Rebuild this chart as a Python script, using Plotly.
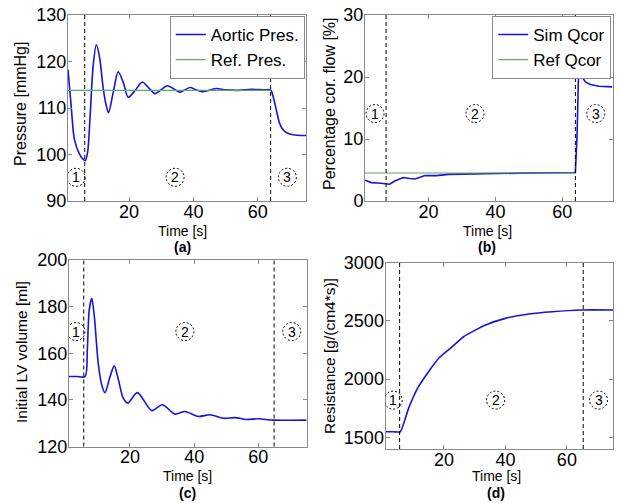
import plotly.graph_objects as go

# ---------------- data ----------------
# (a) Aortic pressure
t_a = [1, 2, 3, 4.5, 5.8, 6.4, 7.1, 7.9, 8.8, 9.8, 10.8, 11.9, 12.8, 13.6, 15.1, 16.6, 18.2, 19.7,
       21.9, 24.1, 26, 28, 29.9, 31.8, 33.7, 35.7, 37.3, 39, 40.8, 42.7, 44.9, 47.1, 50, 54, 58, 62,
       64, 64.8, 65.8, 66.8, 68, 69.5, 71.5, 73.5, 75]
p_a = [118.2, 110.3, 103.2, 100.2, 98.9, 98.7, 100.5, 108.5, 118.9, 123.6, 121.0, 114.5, 110.8, 109.0,
       113.5, 117.8, 115.5, 112.3, 113.8, 115.6, 114.4, 113.1, 113.9, 114.8, 114.2, 113.4, 113.9, 114.4,
       113.9, 113.5, 113.8, 114.2, 113.9, 113.8, 114.0, 113.9, 113.9, 112.4, 109.5, 106.7, 105.2, 104.5,
       104.2, 104.1, 104.1]
t_ref_a = [1, 64]
ref_a = [113.8, 113.8]

# (b) Coronary flow percentage
t_b = [1, 2.9, 4.9, 7.4, 8.4, 9.9, 12.4, 14.4, 16.0, 18.9, 22.4, 25.9, 32.9, 40.9, 47.9, 63.9,
       64.4, 64.8, 65.2, 65.9, 66.9, 68.4, 70.9, 75]
q_b = [3.35, 2.97, 2.9, 2.75, 2.7, 3.23, 3.78, 3.62, 3.55, 4.1, 4.1, 4.3, 4.4, 4.4, 4.5, 4.59,
       10.6, 19.5, 21.0, 20.0, 19.2, 18.8, 18.5, 18.4]
t_ref_b = [1, 64]
ref_b = [4.52, 4.52]

# (c) Initial LV volume
t_c = [1, 3.5, 6.0, 6.7, 7.3, 8.1, 8.9, 10.1, 11.2, 12.2, 13.8, 15.1, 16.4, 17.9, 19.3, 22.3, 26.8,
       30.1, 34, 37.1, 41.3, 44.9, 49.1, 52.7, 56.3, 60, 64.7, 75]
v_c = [150, 150, 150, 161.4, 178.6, 183.6, 175.7, 155.7, 146.4, 143.1, 150, 154.6, 148.6, 140.7,
       138.6, 143.1, 135.4, 137.9, 133.9, 135, 132.9, 133.6, 132.1, 132.4, 131.6, 131.9, 131.3, 131.3]

# (d) Resistance
t_d = [1, 3.5, 5.8, 8.5, 11.4, 15, 18.3, 22.1, 26.4, 33.5, 40, 47.6, 55.2, 65, 75]
r_d = [1548, 1548, 1548, 1749, 1921, 2064, 2179, 2265, 2364, 2465, 2522, 2559, 2579, 2594, 2594]

# phase boundaries (dashed lines) per panel
phase_a = [6.2, 64.0]
phase_b = [7.3, 63.9]
phase_c = [5.6, 64.9]
phase_d = [5.6, 65.3]

# circled phase labels: x positions and y level per panel
circ_labels = ["1", "2", "3"]
circ_a_x, circ_a_y = [3.5, 34.3, 69.2], 95.1
circ_b_x, circ_b_y = [4.0, 33.9, 70.0], 14.1
circ_c_x, circ_c_y = [3.2, 37.1, 70.4], 169.3
circ_d_x, circ_d_y = [3.5, 36.8, 70.3], 1820

x_ticks = [20, 40, 60]
y_ticks_a = [90, 100, 110, 120, 130]
y_ticks_b = [0, 10, 20, 30]
y_ticks_c = [120, 140, 160, 180, 200]
y_ticks_d = [1500, 2000, 2500, 3000]

# ---------------- figure ----------------
W, H = 618, 503
BLUE = "#1414dc"
GREEN = "#5caa5c"
AX = "#8a8a8a"
FONT = "Arial, Liberation Sans, sans-serif"

fig = go.Figure()

fig.add_trace(go.Scatter(x=t_a, y=p_a, mode="lines", name="Aortic Pres.",
                         line=dict(color=BLUE, width=1.6, shape="spline", smoothing=0.8),
                         xaxis="x", yaxis="y", legend="legend"))
fig.add_trace(go.Scatter(x=t_ref_a, y=ref_a, mode="lines", name="Ref. Pres.",
                         line=dict(color=GREEN, width=1.2), xaxis="x", yaxis="y", legend="legend"))
fig.add_trace(go.Scatter(x=t_b, y=q_b, mode="lines", name="Sim Qcor",
                         line=dict(color=BLUE, width=1.6), xaxis="x2", yaxis="y2", legend="legend2"))
fig.add_trace(go.Scatter(x=t_ref_b, y=ref_b, mode="lines", name="Ref Qcor",
                         line=dict(color=GREEN, width=1.2), xaxis="x2", yaxis="y2", legend="legend2"))
fig.add_trace(go.Scatter(x=t_c, y=v_c, mode="lines", showlegend=False,
                         line=dict(color=BLUE, width=1.6, shape="spline", smoothing=0.8),
                         xaxis="x3", yaxis="y3"))
fig.add_trace(go.Scatter(x=t_d, y=r_d, mode="lines", showlegend=False,
                         line=dict(color=BLUE, width=1.6, shape="spline", smoothing=0.5),
                         xaxis="x4", yaxis="y4"))

# domains in pixels -> paper
def xd(a, b):
    return [a / W, b / W]

def yd(top, bot):
    return [1 - bot / H, 1 - top / H]

dom = {
    "a": (xd(68, 306), yd(15, 201)),
    "b": (xd(365, 612.5), yd(15, 201)),
    "c": (xd(69, 306.5), yd(260, 446.5)),
    "d": (xd(385.5, 613), yd(262.7, 449)),
}

def axis_common(**kw):
    d = dict(showline=True, linecolor=AX, linewidth=1, mirror="ticks", ticks="inside",
             ticklen=4, tickcolor=AX, showgrid=False, zeroline=False, automargin=False,
             ticklabelstandoff=-3,
             tickfont=dict(size=18, color="black", family=FONT))
    d.update(kw)
    return d

def xaxis_common(**kw):
    return axis_common(ticklabelstandoff=-6, **kw)

fig.update_layout(
    xaxis=xaxis_common(domain=dom["a"][0], anchor="y", range=[1, 75], tickvals=x_ticks),
    yaxis=axis_common(domain=dom["a"][1], anchor="x", range=[90, 130], tickvals=y_ticks_a),
    xaxis2=xaxis_common(domain=dom["b"][0], anchor="y2", range=[1, 75], tickvals=x_ticks),
    yaxis2=axis_common(domain=dom["b"][1], anchor="x2", range=[0, 30], tickvals=y_ticks_b),
    xaxis3=xaxis_common(domain=dom["c"][0], anchor="y3", range=[1, 75], tickvals=x_ticks),
    yaxis3=axis_common(domain=dom["c"][1], anchor="x3", range=[120, 200], tickvals=y_ticks_c),
    xaxis4=xaxis_common(domain=dom["d"][0], anchor="y4", range=[1, 75], tickvals=x_ticks),
    yaxis4=axis_common(domain=dom["d"][1], anchor="x4", range=[1400, 3000], tickvals=y_ticks_d),
)

legend_style = dict(xanchor="right", yanchor="top", bgcolor="white", bordercolor=AX,
                    borderwidth=1, font=dict(size=17, color="black", family=FONT),
                    tracegroupgap=0, itemwidth=30)
fig.update_layout(
    legend=dict(x=dom["a"][0][1] - 0.002, y=dom["a"][1][1] - 0.002, **legend_style),
    legend2=dict(x=dom["b"][0][1] - 0.002, y=dom["b"][1][1] - 0.002, **legend_style),
)

shapes = []
annotations = []
panels = [("", phase_a, circ_a_x, circ_a_y), ("2", phase_b, circ_b_x, circ_b_y),
          ("3", phase_c, circ_c_x, circ_c_y), ("4", phase_d, circ_d_x, circ_d_y)]
for suf, phases, cx, cy in panels:
    for p in phases:
        shapes.append(dict(type="line", xref="x" + suf, yref="y" + suf + " domain",
                           x0=p, x1=p, y0=0, y1=1,
                           line=dict(color="black", width=1, dash="4px,3px")))
    for xx, lab in zip(cx, circ_labels):
        shapes.append(dict(type="circle", xref="x" + suf, yref="y" + suf,
                           xsizemode="pixel", ysizemode="pixel", xanchor=xx, yanchor=cy,
                           x0=-9, x1=9, y0=-9, y1=9,
                           line=dict(color="black", width=1, dash="2px,2px")))
        annotations.append(dict(x=xx, y=cy, xref="x" + suf, yref="y" + suf, text=lab,
                                showarrow=False, font=dict(size=14, color="black", family=FONT)))

def pa(text, x, y, size=16, angle=0, bold=False):
    if bold:
        text = "<b>" + text + "</b>"
    annotations.append(dict(text=text, x=x / W, y=1 - y / H, xref="paper", yref="paper",
                            showarrow=False, textangle=angle, xanchor="center", yanchor="middle",
                            font=dict(size=size, color="black", family=FONT)))

pa("Pressure [mmHg]", 21, 104, angle=-90)
pa("Time [s]", 182, 231, size=14)
pa("(a)", 182, 247, size=14, bold=True)
pa("Percentage cor. flow [%]", 330, 104, angle=-90)
pa("Time [s]", 487, 231, size=14)
pa("(b)", 487, 247, size=14, bold=True)
pa("Initial LV volume [ml]", 21, 352, size=15.5, angle=-90)
pa("Time [s]", 187, 476, size=14)
pa("(c)", 187, 493, size=14, bold=True)
pa("Resistance [g/(cm4*s)]", 329, 356, size=15.5, angle=-90)
pa("Time [s]", 496, 476, size=14)
pa("(d)", 496, 493, size=14, bold=True)

fig.update_layout(
    width=W, height=H, margin=dict(l=0, r=0, t=0, b=0, autoexpand=False),
    paper_bgcolor="white", plot_bgcolor="white",
    font=dict(family=FONT, color="black"),
    shapes=shapes, annotations=annotations,
)

fig.write_html("out.html", config={"displayModeBar": False},
               post_script="document.body.style.margin='0px';")
